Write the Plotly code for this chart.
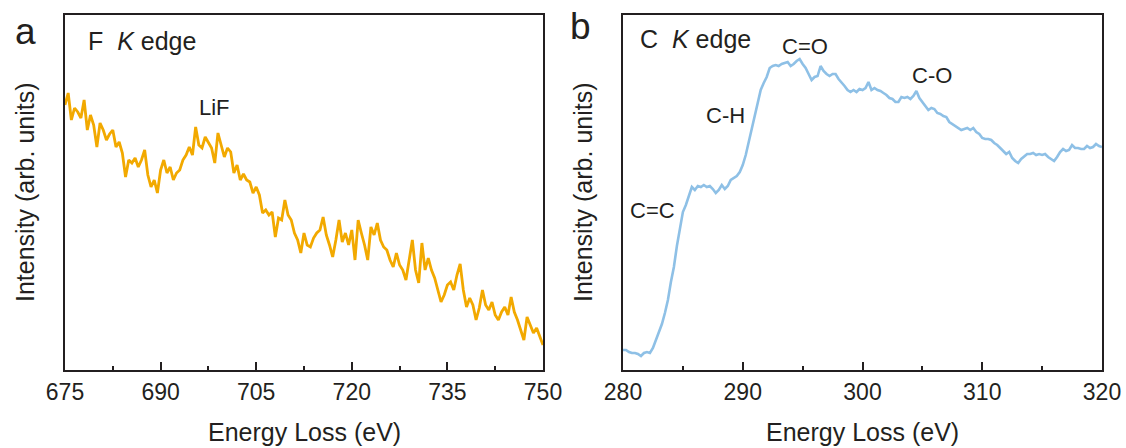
import numpy as np
import plotly.graph_objects as go

# ---------------- data ----------------
f_energy = np.round(np.arange(675.0, 750.01, 0.5), 2)
f_intensity = [
    265, 277, 250, 262, 258, 252, 270, 240, 255, 245,
    223, 247, 240, 230, 236, 240, 223, 228, 217, 193,
    210, 207, 212, 203, 210, 220, 195, 183, 190, 177,
    200, 210, 197, 203, 190, 197, 200, 210, 215, 223,
    215, 243, 225, 222, 233, 227, 222, 207, 237, 225,
    213, 222, 218, 197, 205, 190, 196, 190, 188, 177,
    183, 175, 157, 160, 155, 158, 133, 152, 150, 170,
    155, 150, 137, 130, 117, 137, 125, 123, 132, 137,
    140, 153, 135, 125, 113, 130, 150, 128, 137, 125,
    140, 110, 150, 137, 125, 110, 143, 135, 147, 130,
    123, 120, 110, 103, 117, 105, 100, 90, 110, 130,
    100, 87, 127, 100, 112, 100, 92, 80, 68, 75,
    85, 88, 80, 95, 106, 80, 63, 72, 65, 50,
    62, 80, 65, 60, 68, 55, 50, 58, 63, 55,
    73, 58, 50, 40, 30, 53, 45, 37, 42, 33,
    25,
]

c_energy = np.round(np.arange(280.0, 320.01, 0.25), 2)
c_intensity = [
    20, 20, 18, 17, 17, 16, 14, 17,
    18, 17, 22, 30, 36, 46, 57, 70,
    88, 103, 124, 142, 158, 165, 174, 183,
    180, 184, 183, 185, 183, 184, 181, 177,
    180, 185, 181, 184, 190, 192, 194, 198,
    205, 215, 228, 242, 255, 268, 280, 287,
    293, 302, 304, 305, 304, 306, 307, 308,
    304, 306, 309, 311, 306, 302, 296, 290,
    293, 294, 304, 299, 296, 294, 296, 296,
    291, 288, 284, 280, 278, 280, 278, 281,
    280, 282, 288, 280, 282, 280, 279, 277,
    275, 272, 271, 268, 268, 273, 272, 273,
    271, 274, 279, 272, 268, 263, 260, 262,
    261, 257, 256, 254, 253, 248, 246, 244,
    242, 240, 241, 242, 240, 242, 238, 236,
    232, 231, 231, 230, 227, 225, 222, 219,
    216, 218, 212, 209, 207, 211, 214, 216,
    216, 217, 215, 216, 215, 216, 213, 211,
    209, 213, 218, 221, 219, 220, 225, 222,
    222, 221, 221, 224, 222, 223, 226, 224,
    223,
]

f_ticks = [675, 690, 705, 720, 735, 750]
c_ticks = [280, 290, 300, 310, 320]

f_peaks = ["LiF"]
f_peak_pos = [(698.4, 263)]
c_peaks = ["C=C", "C-H", "C=O", "C-O"]
c_peak_pos = [(282.5, 160), (288.6, 255), (295.2, 324), (305.8, 295)]

# ---------------- layout helpers ----------------
W, H = 1126, 448
FONT = "Liberation Sans, Arial, Helvetica, sans-serif"
INK = "#231f20"


def px(x):
    return x / W


def py(y):
    return 1 - y / H


fig = go.Figure()
fig.add_trace(go.Scatter(x=f_energy, y=f_intensity, mode="lines",
                         line=dict(color="#F2A900", width=2.8),
                         xaxis="x", yaxis="y", showlegend=False))
fig.add_trace(go.Scatter(x=c_energy, y=c_intensity, mode="lines",
                         line=dict(color="#8EC0E6", width=2.6),
                         xaxis="x2", yaxis="y2", showlegend=False))

common_x = dict(showline=True, mirror=True, linewidth=2, linecolor=INK,
                showgrid=False, zeroline=False, ticks="inside", ticklen=8,
                tickwidth=2, tickcolor=INK, automargin=False,
                tickfont=dict(family=FONT, size=23, color=INK))
common_y = dict(showline=True, mirror=True, linewidth=2, linecolor=INK,
                showgrid=False, zeroline=False, ticks="", showticklabels=False,
                automargin=False,
                range=[0, 355], domain=[py(370), py(15)])

fig.update_layout(
    width=W, height=H,
    margin=dict(l=0, r=0, t=0, b=0, autoexpand=False),
    paper_bgcolor="white", plot_bgcolor="white",
    xaxis=dict(domain=[px(65), px(543)], range=[675, 750],
               tickvals=f_ticks, anchor="y",
               minor=dict(ticks="inside", ticklen=4, tickwidth=2,
                          tickcolor=INK, dtick=7.5, tick0=675, showgrid=False),
               **common_x),
    yaxis=dict(anchor="x", **common_y),
    xaxis2=dict(domain=[px(623), px(1102)], range=[280, 320],
                tickvals=c_ticks, anchor="y2",
                minor=dict(ticks="inside", ticklen=4, tickwidth=2,
                           tickcolor=INK, dtick=5, tick0=280, showgrid=False),
                **common_x),
    yaxis2=dict(anchor="x2", **common_y),
)

ann = []


def add_text(text, x, y, size, xanchor="center", yanchor="middle", angle=0):
    ann.append(dict(text=text, x=px(x), y=py(y), xref="paper", yref="paper",
                    showarrow=False, xanchor=xanchor, yanchor=yanchor,
                    textangle=angle,
                    font=dict(family=FONT, size=size, color=INK)))


# panel letters
add_text("a", 25, 31, 37)
add_text("b", 580, 27, 37)
# edge titles
add_text("F\u00a0\u00a0<i>K</i> edge", 86, 41, 25, xanchor="left")
add_text("C\u00a0\u00a0<i>K</i> edge", 638, 39, 25, xanchor="left")
# axis titles
add_text("Energy Loss (eV)", 304, 432, 25)
add_text("Energy Loss (eV)", 862, 432, 25)
add_text("Intensity (arb. units)", 25, 192, 25, angle=-90)
add_text("Intensity (arb. units)", 583, 192, 25, angle=-90)

fig.update_layout(annotations=ann)

# peak labels placed in data coordinates
for lab, (xv, yv) in zip(f_peaks, f_peak_pos):
    fig.add_annotation(text=lab, x=xv, y=yv, xref="x", yref="y", showarrow=False,
                       font=dict(family=FONT, size=22, color=INK))
for lab, (xv, yv) in zip(c_peaks, c_peak_pos):
    fig.add_annotation(text=lab, x=xv, y=yv, xref="x2", yref="y2", showarrow=False,
                       font=dict(family=FONT, size=22, color=INK))

fig.write_html("out.html")
